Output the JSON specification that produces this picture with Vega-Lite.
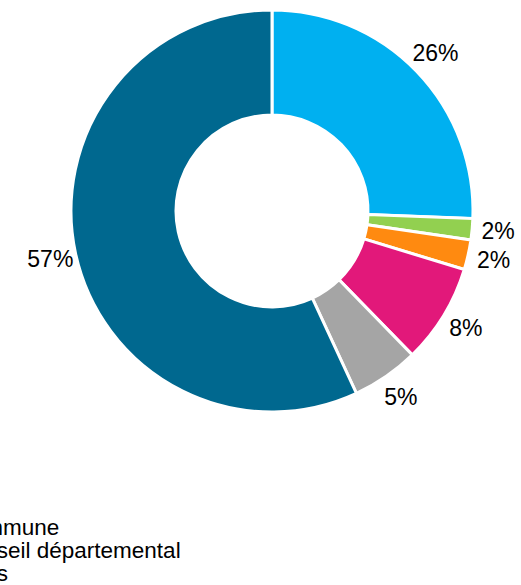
{
  "$schema": "https://vega.github.io/schema/vega-lite/v6.json",
  "width": 544,
  "height": 422,
  "autosize": {"type": "none"},
  "padding": {"left": 0, "top": 0, "right": 0, "bottom": 163},
  "background": "white",
  "config": {"view": {"stroke": null}, "font": "Liberation Sans"},
  "data": {
    "values": [
      {"i": 1, "source": "Commune", "share": 0.256},
      {"i": 2, "source": "Conseil départemental", "share": 0.017},
      {"i": 3, "source": "Dons", "share": 0.024},
      {"i": 4, "source": "Région", "share": 0.080},
      {"i": 5, "source": "État", "share": 0.054},
      {"i": 6, "source": "Autres", "share": 0.569}
    ]
  },
  "encoding": {
    "theta": {"field": "share", "type": "quantitative", "stack": true},
    "order": {"field": "i", "type": "quantitative"}
  },
  "layer": [
    {
      "mark": {"type": "arc", "innerRadius": 96, "outerRadius": 201, "stroke": "white", "strokeWidth": 3},
      "encoding": {
        "color": {
          "field": "source",
          "type": "nominal",
          "scale": {
            "domain": ["Commune", "Conseil départemental", "Dons", "Région", "État", "Autres"],
            "range": ["#00B0F0", "#92D050", "#FF8A10", "#E2187A", "#A5A5A5", "#00688F"]
          },
          "legend": {
            "orient": "none",
            "legendX": -71,
            "legendY": 517,
            "title": null,
            "labelFontSize": 22.5,
            "labelFont": "Liberation Sans",
            "labelColor": "black",
            "symbolType": "square",
            "symbolSize": 100,
            "rowPadding": -1,
            "labelLimit": 400
          }
        }
      }
    },
    {
      "mark": {"type": "text", "radius": 227, "fontSize": 23, "font": "Liberation Sans", "color": "black"},
      "encoding": {
        "text": {"field": "share", "type": "quantitative", "format": ".0%"}
      }
    }
  ]
}
